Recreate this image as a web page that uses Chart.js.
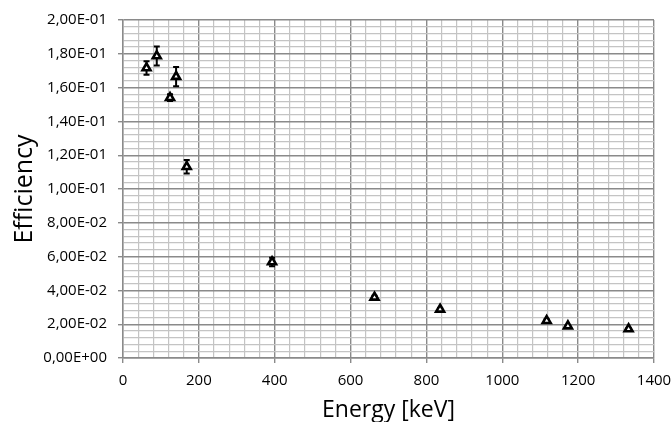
<!DOCTYPE html>
<html>
<head>
<meta charset="utf-8">
<script src="https://cdn.jsdelivr.net/npm/chart.js@4/dist/chart.umd.min.js"></script>
<style>
  html, body { margin: 0; padding: 0; background: #ffffff; }
  #wrap { width: 671px; height: 422px; }
</style>
</head>
<body>
<div id="wrap"><canvas id="chart" width="671" height="422"></canvas></div>
<script>
// Measured detector efficiency versus gamma energy
const energies   = [62, 89, 124, 140, 168, 393, 663, 836, 1117, 1173, 1333];
const efficiency = [0.1716, 0.1787, 0.1540, 0.1665, 0.1132, 0.0568, 0.0359, 0.0288, 0.0221, 0.0189, 0.0172];
const effError   = [0.0040, 0.0056, 0.0020, 0.0057, 0.0040, 0.0025, 0.0010, 0.0008, 0.0008, 0.0006, 0.0006];

const xMajor = 200, xMinor = 40, xMax = 1400;
const yMajor = 0.02, yMinor = 0.004, yMax = 0.2;

const FONT = "'Open Sans', 'Liberation Sans', sans-serif";

function isMajor(v, step) {
  const r = v / step;
  return Math.abs(r - Math.round(r)) < 1e-6;
}

// "2,00E-01" style scientific labels
function sciLabel(v) {
  if (Math.abs(v) < 1e-12) return '0,00E+00';
  const [m, e] = v.toExponential(2).split('e');
  const n = parseInt(e, 10);
  const exp = (n < 0 ? '-' : '+') + String(Math.abs(n)).padStart(2, '0');
  return m.replace('.', ',') + 'E' + exp;
}

// Vertical error bars with caps, drawn through the chart's scales
const errorBars = {
  id: 'errorBars',
  beforeDatasetsDraw(chart) {
    const { ctx, scales: { x, y } } = chart;
    ctx.save();
    ctx.strokeStyle = '#000000';
    ctx.lineWidth = 2;
    const cap = 3;
    energies.forEach((e, i) => {
      const px = x.getPixelForValue(e);
      const top = y.getPixelForValue(efficiency[i] + effError[i]);
      const bot = y.getPixelForValue(efficiency[i] - effError[i]);
      ctx.beginPath();
      ctx.moveTo(px, top); ctx.lineTo(px, bot);
      ctx.moveTo(px - cap, top); ctx.lineTo(px + cap, top);
      ctx.moveTo(px - cap, bot); ctx.lineTo(px + cap, bot);
      ctx.stroke();
    });
    ctx.restore();
  }
};

new Chart(document.getElementById('chart'), {
  type: 'scatter',
  data: {
    datasets: [{
      label: 'Efficiency',
      data: energies.map((e, i) => ({ x: e, y: efficiency[i] })),
      pointStyle: 'triangle',
      pointRadius: 4.6,
      pointBorderWidth: 2.6,
      pointBorderColor: '#000000',
      pointBackgroundColor: '#ffffff',
      showLine: false
    }]
  },
  options: {
    responsive: false,
    animation: false,
    events: [],
    layout: { padding: { left: 0, right: 17, top: 20, bottom: 0 } },
    plugins: { legend: { display: false }, tooltip: { enabled: false } },
    scales: {
      x: {
        type: 'linear',
        min: 0, max: xMax,
        afterFit(s) { s.height = 64; s.paddingLeft = 0; s.paddingRight = 0; },
        afterBuildTicks(s) {
          const t = [];
          for (let v = 0; v <= xMax + 1e-9; v += xMinor) t.push({ value: Math.round(v) });
          s.ticks = t;
        },
        ticks: {
          autoSkip: false,
          maxRotation: 0,
          padding: 9,
          color: '#000000',
          font: { family: FONT, size: 15 },
          callback: (v) => isMajor(v, xMajor) ? String(v) : ''
        },
        grid: {
          drawTicks: true,
          tickLength: 5,
          color: (c) => isMajor(c.tick.value, xMajor) ? '#8a8a8a' : '#c4c4c4',
          tickColor: (c) => isMajor(c.tick.value, xMajor) ? '#8a8a8a' : 'rgba(0,0,0,0)',
          lineWidth: (c) => isMajor(c.tick.value, xMajor) ? 1.4 : 1.2
        },
        border: { display: true, color: '#8a8a8a', width: 1.4 },
        title: {
          display: true,
          text: 'Energy [keV]',
          color: '#000000',
          font: { family: FONT, size: 23 },
          padding: { top: 0, bottom: -2 }
        }
      },
      y: {
        type: 'linear',
        min: 0, max: yMax,
        afterFit(s) { s.width = 123; s.paddingTop = 0; s.paddingBottom = 0; },
        afterBuildTicks(s) {
          const t = [];
          for (let k = 0; k <= Math.round(yMax / yMinor); k++) t.push({ value: +(k * yMinor).toFixed(6) });
          s.ticks = t;
        },
        ticks: {
          autoSkip: false,
          padding: 11,
          color: '#000000',
          font: { family: FONT, size: 15 },
          callback: (v) => isMajor(v, yMajor) ? sciLabel(v) : ''
        },
        grid: {
          drawTicks: true,
          tickLength: 5,
          color: (c) => isMajor(c.tick.value, yMajor) ? '#8a8a8a' : '#c4c4c4',
          tickColor: (c) => isMajor(c.tick.value, yMajor) ? '#8a8a8a' : 'rgba(0,0,0,0)',
          lineWidth: (c) => isMajor(c.tick.value, yMajor) ? 1.4 : 1.2
        },
        border: { display: true, color: '#8a8a8a', width: 1.4 },
        title: {
          display: true,
          text: 'Efficiency',
          color: '#000000',
          font: { family: FONT, size: 25 },
          padding: { top: 10, bottom: 0 }
        }
      }
    }
  },
  plugins: [errorBars]
});
</script>
</body>
</html>
